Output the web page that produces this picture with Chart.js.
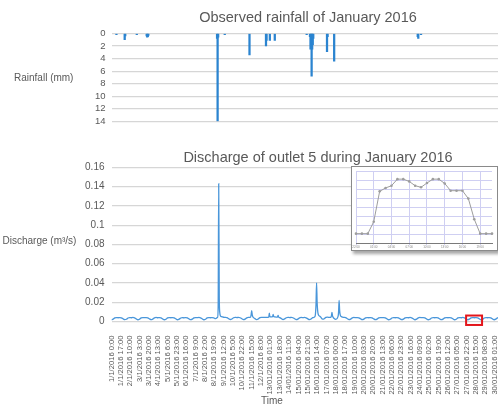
<!DOCTYPE html>
<html>
<head>
<meta charset="utf-8">
<title>Rainfall and discharge, January 2016</title>
<script src="https://cdn.jsdelivr.net/npm/chart.js@4.4.1/dist/chart.umd.min.js"></script>
<style>
  html, body { margin: 0; padding: 0; background: #fff; }
  #page { position: relative; width: 498px; height: 406px; overflow: hidden; }
  #rainChart { position: absolute; left: 0; top: 0; }
  #flowChart { position: absolute; left: 0; top: 135px; }
  #zoomBox {
    position: absolute; left: 351px; top: 166px; width: 147px; height: 85px;
    box-sizing: border-box; border: 1.5px solid #8a8a8a; background: #fff;
    box-shadow: 2px 3px 3px rgba(0, 0, 0, 0.35);
  }
  #zoomChart { display: block; }
</style>
</head>
<body>
<div id="page">
  <canvas id="rainChart" width="498" height="135"></canvas>
  <canvas id="flowChart" width="498" height="271"></canvas>
  <div id="zoomBox"><canvas id="zoomChart" width="144" height="82"></canvas></div>
</div>
<script>
// hourly rain gauge readings (hour of month, mm)
const rainHours = [9, 24, 25, 46, 64, 65, 66, 67, 192, 193, 194, 206, 251, 281, 282, 288, 297,
  355, 361, 362, 363, 364, 365, 366, 367, 392, 393, 405, 557, 558, 563];
const rainMm = [0.2, 1.0, 0.4, 0.2, 0.4, 0.6, 0.5, 0.3, 0.8, 14, 0.6, 0.2, 3.4, 2.0, 1.1, 1.1, 1.1,
  0.2, 0.5, 2.5, 2.0, 6.8, 2.5, 1.8, 0.8, 2.9, 0.5, 4.4, 0.5, 0.8, 0.2];

// outlet 5 base flow, one reading every 3 hours, one row per day (m3/s)
const baseStep = 3;
const baseFlow = [
  0.0018, 0.0024, 0.0037, 0.0041, 0.0039, 0.0041, 0.0038, 0.0028,
  0.0019, 0.0023, 0.0036, 0.0040, 0.0039, 0.0042, 0.0038, 0.0027,
  0.0018, 0.0024, 0.0038, 0.0041, 0.0040, 0.0041, 0.0037, 0.0028,
  0.0019, 0.0025, 0.0037, 0.0042, 0.0039, 0.0040, 0.0038, 0.0027,
  0.0018, 0.0023, 0.0037, 0.0041, 0.0039, 0.0041, 0.0038, 0.0028,
  0.0018, 0.0024, 0.0036, 0.0040, 0.0038, 0.0041, 0.0037, 0.0027,
  0.0019, 0.0024, 0.0037, 0.0041, 0.0040, 0.0042, 0.0038, 0.0028,
  0.0018, 0.0023, 0.0037, 0.0041, 0.0039, 0.0041, 0.0038, 0.0029,
  0.0020, 0.0030, 0.0047, 0.0046, 0.0044, 0.0043, 0.0040, 0.0030,
  0.0021, 0.0026, 0.0039, 0.0043, 0.0041, 0.0042, 0.0039, 0.0029,
  0.0020, 0.0025, 0.0038, 0.0042, 0.0044, 0.0045, 0.0041, 0.0030,
  0.0020, 0.0026, 0.0040, 0.0043, 0.0042, 0.0043, 0.0042, 0.0035,
  0.0040, 0.0045, 0.0046, 0.0044, 0.0045, 0.0042, 0.0040, 0.0030,
  0.0021, 0.0027, 0.0039, 0.0043, 0.0041, 0.0042, 0.0039, 0.0029,
  0.0020, 0.0025, 0.0038, 0.0042, 0.0040, 0.0042, 0.0038, 0.0028,
  0.0020, 0.0026, 0.0040, 0.0055, 0.0060, 0.0052, 0.0045, 0.0033,
  0.0024, 0.0029, 0.0042, 0.0045, 0.0043, 0.0044, 0.0040, 0.0030,
  0.0022, 0.0027, 0.0040, 0.0046, 0.0045, 0.0043, 0.0040, 0.0029,
  0.0020, 0.0025, 0.0038, 0.0042, 0.0040, 0.0041, 0.0038, 0.0028,
  0.0019, 0.0024, 0.0037, 0.0041, 0.0039, 0.0041, 0.0038, 0.0027,
  0.0019, 0.0024, 0.0037, 0.0041, 0.0040, 0.0041, 0.0037, 0.0028,
  0.0018, 0.0023, 0.0036, 0.0040, 0.0039, 0.0041, 0.0038, 0.0027,
  0.0019, 0.0024, 0.0037, 0.0041, 0.0039, 0.0042, 0.0038, 0.0028,
  0.0018, 0.0024, 0.0037, 0.0042, 0.0040, 0.0041, 0.0038, 0.0027,
  0.0018, 0.0023, 0.0036, 0.0041, 0.0039, 0.0041, 0.0037, 0.0027,
  0.0019, 0.0024, 0.0037, 0.0040, 0.0039, 0.0041, 0.0038, 0.0028,
  0.0018, 0.0023, 0.0037, 0.0041, 0.0039, 0.0042, 0.0038, 0.0027,
  0.0018, 0.0024, 0.0037, 0.0041, 0.0039, 0.0041, 0.0037, 0.0028,
  0.0018, 0.0023, 0.0036, 0.0040, 0.0039, 0.0041, 0.0038, 0.0027,
  0.0018, 0.0024, 0.0037, 0.0041, 0.0039, 0.0041, 0.0038, 0.0028
];

// storm responses, hourly (hour of month, m3/s)
const eventHours = [193, 194, 195, 196, 197, 198, 200,
  253, 254, 255, 256, 257,
  286, 287, 288, 290, 293, 294, 295, 298, 302, 303, 304,
  370, 371, 372, 373, 374, 375, 376, 378, 380,
  399, 400, 401, 402, 403,
  412, 413, 414, 415, 416, 418];
const eventFlow = [0.0045, 0.0150, 0.1430, 0.0250, 0.0090, 0.0060, 0.0050,
  0.0045, 0.0070, 0.0112, 0.0068, 0.0050,
  0.0045, 0.0086, 0.0052, 0.0048, 0.0050, 0.0074, 0.0052, 0.0047, 0.0048, 0.0062, 0.0047,
  0.0050, 0.0080, 0.0180, 0.0400, 0.0200, 0.0110, 0.0075, 0.0058, 0.0050,
  0.0042, 0.0058, 0.0094, 0.0058, 0.0045,
  0.0050, 0.0095, 0.0220, 0.0110, 0.0068, 0.0052];

// x tick labels, one every 17 hours
const tickStep = 17;
const timeLabels = ['1/1/2016 0:00', '1/1/2016 17:00', '2/1/2016 10:00', '3/1/2016 3:00', '3/1/2016 20:00',
  '4/1/2016 13:00', '5/1/2016 6:00', '5/1/2016 23:00', '6/1/2016 16:00', '7/1/2016 9:00', '8/1/2016 2:00',
  '8/1/2016 19:00', '9/1/2016 12:00', '10/1/2016 5:00', '10/1/2016 22:00', '11/1/2016 15:00', '12/1/2016 8:00',
  '13/01/2016 01:00', '13/01/2016 18:00', '14/01/2016 11:00', '15/01/2016 04:00', '15/01/2016 21:00',
  '16/01/2016 14:00', '17/01/2016 07:00', '18/01/2016 00:00', '18/01/2016 17:00', '19/01/2016 10:00',
  '20/01/2016 03:00', '20/01/2016 20:00', '21/01/2016 13:00', '22/01/2016 06:00', '22/01/2016 23:00',
  '23/01/2016 16:00', '24/01/2016 09:00', '25/01/2016 02:00', '25/01/2016 19:00', '26/01/2016 12:00',
  '27/01/2016 05:00', '27/01/2016 22:00', '28/01/2016 15:00', '29/01/2016 08:00', '30/01/2016 01:00'];
const lastHour = 703;

// close-up of one daily cycle (27-28 Jan)
const zoomLabels = ['22:00', '23:00', '00:00', '01:00', '02:00', '03:00', '04:00', '05:00', '06:00', '07:00',
  '08:00', '09:00', '10:00', '11:00', '12:00', '13:00', '14:00', '15:00', '16:00', '17:00', '18:00', '19:00',
  '20:00', '21:00'];
const zoomFlow = [0.00183, 0.00183, 0.00183, 0.00236, 0.00370, 0.00385, 0.00395, 0.00424, 0.00424, 0.00414,
  0.00395, 0.00388, 0.00407, 0.00424, 0.00424, 0.00405, 0.00373, 0.00373, 0.00373, 0.00338, 0.00247,
  0.00183, 0.00183, 0.00183];
const zoomHours = [645, 674];
const zoomRange = [-0.0036, 0.0062];

const FONT = "'Liberation Sans', Arial, sans-serif";
const GREY = '#595959';
const GRID = '#d6d6d6';
Chart.defaults.font.family = FONT;
Chart.defaults.color = GREY;

// free text drawn on the canvas (titles, horizontal axis names)
function captions(items) {
  return {
    id: 'captions',
    afterDraw(chart) {
      const ctx = chart.ctx;
      ctx.save();
      ctx.fillStyle = GREY;
      ctx.textBaseline = 'middle';
      items.forEach(c => {
        ctx.font = c.size + 'px ' + FONT;
        ctx.textAlign = c.align || 'center';
        ctx.fillText(c.text, c.x, c.y);
      });
      ctx.restore();
    }
  };
}

// red box marking the close-up window
const zoomMarker = {
  id: 'zoomMarker',
  afterDatasetsDraw(chart) {
    const {x, y} = chart.scales;
    const ctx = chart.ctx;
    const l = x.getPixelForValue(zoomHours[0]), r = x.getPixelForValue(zoomHours[1]);
    const t = y.getPixelForValue(zoomRange[1]), b = y.getPixelForValue(zoomRange[0]);
    ctx.save();
    ctx.strokeStyle = '#e3151b';
    ctx.lineWidth = 2;
    ctx.strokeRect(l, t, r - l, b - t);
    ctx.restore();
  }
};

const rainPoints = rainHours.map((h, i) => ({x: h, y: rainMm[i]}));

const flowPoints = [];
baseFlow.forEach((v, i) => {
  const h = i * baseStep;
  if (!eventHours.some(e => Math.abs(e - h) <= 1)) flowPoints.push({x: h, y: v});
});
eventHours.forEach((h, i) => flowPoints.push({x: h, y: eventFlow[i]}));
flowPoints.sort((a, b) => a.x - b.x);

const axisWidth = s => { s.width = 111.5; };
// the time axis runs to the right edge, so rotated labels get no side padding
const timeAxisFit = s => { s.height = 84.5; s.paddingLeft = 0; s.paddingRight = 0; };

new Chart(document.getElementById('rainChart'), {
  type: 'bar',
  data: {
    datasets: [{
      data: rainPoints,
      backgroundColor: '#2b84d0',
      barThickness: 1.6
    }]
  },
  options: {
    responsive: false,
    animation: false,
    layout: { padding: { top: 33.5, bottom: 13.7, left: 0, right: 0 } },
    plugins: { legend: { display: false }, tooltip: { enabled: false } },
    scales: {
      x: { type: 'linear', display: false, min: 0, max: lastHour, offset: false },
      y: {
        reverse: true, min: 0, max: 14,
        afterFit: axisWidth,
        grid: { color: GRID, lineWidth: 1.2, drawTicks: false },
        border: { display: false },
        ticks: { stepSize: 2, autoSkip: false, padding: 6, font: { size: 9.5 } }
      }
    }
  },
  plugins: [captions([
    { text: 'Observed rainfall of January 2016', x: 308, y: 18, size: 14.5 },
    { text: 'Rainfall (mm)', x: 14, y: 78, size: 10, align: 'left' }
  ])]
});

new Chart(document.getElementById('flowChart'), {
  type: 'line',
  data: {
    datasets: [{
      data: flowPoints,
      borderColor: '#4996da',
      borderWidth: 1.3,
      pointRadius: 0,
      cubicInterpolationMode: 'monotone'
    }]
  },
  options: {
    responsive: false,
    animation: false,
    layout: { padding: { top: 32.3, bottom: 0, left: 0, right: 0 } },
    plugins: { legend: { display: false }, tooltip: { enabled: false } },
    scales: {
      x: {
        type: 'linear', min: 0, max: lastHour, offset: false,
        afterFit: timeAxisFit,
        grid: { display: false },
        border: { display: false },
        ticks: {
          stepSize: tickStep, includeBounds: false, autoSkip: false,
          minRotation: 90, maxRotation: 90, padding: 6,
          font: { size: 7.6 },
          callback: v => timeLabels[Math.round(v / tickStep)] ?? ''
        }
      },
      y: {
        min: 0, max: 0.16,
        afterFit: axisWidth,
        grid: { color: GRID, lineWidth: 1.2, drawTicks: false },
        border: { display: false },
        ticks: { stepSize: 0.02, autoSkip: false, padding: 7, font: { size: 10 }, callback: v => String(+v.toFixed(2)) }
      }
    }
  },
  plugins: [zoomMarker, captions([
    { text: 'Discharge of outlet 5 during January 2016', x: 318, y: 23, size: 14.5 },
    { text: 'Discharge (m³/s)', x: 2.5, y: 106, size: 10, align: 'left' },
    { text: 'Time', x: 272, y: 266, size: 10 }
  ])]
});

const zoomGrid = c => (c.index % 3 === 0 ? '#cfcff2' : 'rgba(0,0,0,0)');

new Chart(document.getElementById('zoomChart'), {
  type: 'line',
  data: {
    labels: zoomLabels,
    datasets: [{
      data: zoomFlow,
      borderColor: '#9d9d9d',
      borderWidth: 1,
      pointRadius: 1.3,
      pointBackgroundColor: '#9d9d9d',
      pointBorderWidth: 0,
      tension: 0
    }]
  },
  options: {
    responsive: false,
    animation: false,
    layout: { padding: { top: 2.5, bottom: 0, left: 1, right: 0 } },
    plugins: { legend: { display: false }, tooltip: { enabled: false } },
    scales: {
      x: {
        offset: false,
        grid: { color: zoomGrid, tickLength: 2 },
        border: { color: '#7a7a7a' },
        ticks: {
          autoSkip: false, maxRotation: 0, padding: 0, color: '#888',
          font: { size: 3 },
          callback: (v, i) => (i % 3 === 0 ? zoomLabels[i] : '')
        }
      },
      y: {
        min: 0.0014, max: 0.0046,
        grid: { color: '#cfcff2', drawTicks: false },
        border: { display: false },
        ticks: { display: false, stepSize: 0.0004 }
      }
    }
  }
});
</script>
</body>
</html>
